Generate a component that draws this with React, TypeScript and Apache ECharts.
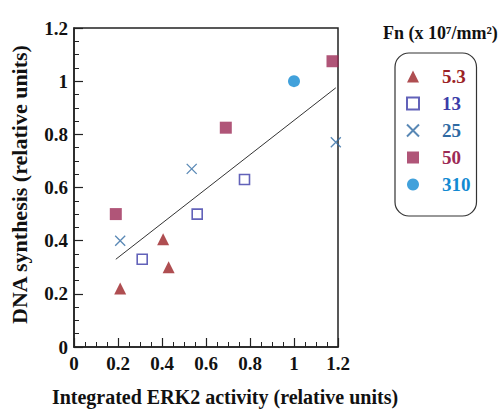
import React, { useEffect, useRef } from "react";
import * as echarts from "echarts";

const seriesNames = ["5.3", "13", "25", "50", "310"];
const seriesColors = ["#9b2226", "#3b3ba8", "#2f6aa3", "#9c2a56", "#128ad2"];
const xs53 = [0.21, 0.405, 0.43];
const ys53 = [0.22, 0.405, 0.3];
const xs13 = [0.31, 0.56, 0.775];
const ys13 = [0.33, 0.5, 0.63];
const xs25 = [0.21, 0.535, 1.19];
const ys25 = [0.4, 0.67, 0.77];
const xs50 = [0.19, 0.69, 1.175];
const ys50 = [0.5, 0.825, 1.075];
const xs310 = [1.0];
const ys310 = [1.0];
const fitX = [0.19, 1.19];
const fitY = [0.33, 0.975];

const xTitle = "Integrated ERK2 activity (relative units)";
const yTitle = "DNA synthesis (relative units)";
const legendTitle = "Fn (x 10\u2077/mm\u00b2)";

const zip = (a: number[], b: number[]) => a.map((v, i) => [v, b[i]]);
const FONT = "Liberation Serif";
const CROSS = "path://M0,0L10,10M10,0L0,10";

export default function App() {
  const ref = useRef<HTMLDivElement>(null);
  useEffect(() => {
    if (!ref.current) return;
    const chart = echarts.init(ref.current, null, { renderer: "svg" });
    const axisCommon = {
      min: 0,
      max: 1.2,
      interval: 0.2,
      axisLine: { show: true, lineStyle: { color: "#222", width: 1.5 } },
      axisTick: { show: true, inside: true, length: 9, lineStyle: { color: "#222", width: 1.2 } },
      minorTick: { show: true, splitNumber: 4, length: 5, lineStyle: { color: "#222", width: 1 } },
      splitLine: { show: false },
      axisLabel: { color: "#111", fontFamily: FONT, fontWeight: "bold", fontSize: 19 },
      nameLocation: "middle" as const,
    };
    chart.setOption({
      animation: false,
      backgroundColor: "#fff",
      textStyle: { fontFamily: FONT },
      grid: {
        left: 68,
        right: 164,
        top: 28,
        bottom: 60,
        show: true,
        borderColor: "#222",
        borderWidth: 1.5,
        containLabel: false,
      },
      xAxis: {
        type: "value",
        ...axisCommon,
        name: xTitle,
        nameGap: 40,
        nameTextStyle: {
          color: "#111",
          fontFamily: FONT,
          fontWeight: "bold",
          fontSize: 20,
          padding: [0, 0, 0, 38],
        },
        axisLabel: { ...axisCommon.axisLabel, margin: 7 },
      },
      yAxis: {
        type: "value",
        ...axisCommon,
        name: yTitle,
        nameGap: 44,
        nameRotate: 90,
        nameTextStyle: {
          color: "#111",
          fontFamily: FONT,
          fontWeight: "bold",
          fontSize: 22,
          padding: [0, 0, 0, 6],
        },
        axisLabel: { ...axisCommon.axisLabel, margin: 6 },
      },
      legend: {
        orient: "vertical",
        left: 395,
        top: 53,
        padding: [14, 6, 22, 11],
        itemWidth: 12,
        itemHeight: 12,
        itemGap: 8,
        borderColor: "#333",
        borderWidth: 1.2,
        borderRadius: 14,
        textStyle: { fontFamily: FONT, fontSize: 19, fontWeight: "bold", padding: [0, 0, 0, 18] },
        data: seriesNames.map((n, i) => ({
          name: n,
          textStyle: {
            color: seriesColors[i],
            fontFamily: FONT,
            fontWeight: "bold",
            fontSize: 19,
            padding: [0, 0, 0, 18],
          },
        })),
      },
      graphic: [
        {
          type: "text",
          left: 383,
          top: 24,
          style: {
            text: legendTitle,
            fontFamily: FONT,
            fontWeight: "bold",
            fontSize: 18,
            fill: "#111",
          },
        },
      ],
      series: [
        {
          type: "line",
          data: zip(fitX, fitY),
          showSymbol: false,
          symbol: "none",
          lineStyle: { color: "#333", width: 1 },
          silent: true,
        },
        {
          name: seriesNames[0],
          type: "scatter",
          data: zip(xs53, ys53),
          symbol: "triangle",
          symbolSize: 12,
          itemStyle: { color: seriesColors[0] },
        },
        {
          name: seriesNames[1],
          type: "scatter",
          data: zip(xs13, ys13),
          symbol: "rect",
          symbolSize: 10,
          itemStyle: { color: "#fff", borderColor: seriesColors[1], borderWidth: 1.6 },
        },
        {
          name: seriesNames[2],
          type: "scatter",
          data: zip(xs25, ys25),
          symbol: CROSS,
          symbolSize: 10,
          itemStyle: { color: seriesColors[2], borderColor: seriesColors[2], borderWidth: 1.3 },
        },
        {
          name: seriesNames[3],
          type: "scatter",
          data: zip(xs50, ys50),
          symbol: "rect",
          symbolSize: 12,
          itemStyle: { color: seriesColors[3] },
        },
        {
          name: seriesNames[4],
          type: "scatter",
          data: zip(xs310, ys310),
          symbol: "circle",
          symbolSize: 12,
          itemStyle: { color: seriesColors[4] },
        },
      ],
    });
    return () => chart.dispose();
  }, []);
  return <div ref={ref} style={{ width: 502, height: 412, position: "absolute", left: 0, top: 0 }} />;
}
